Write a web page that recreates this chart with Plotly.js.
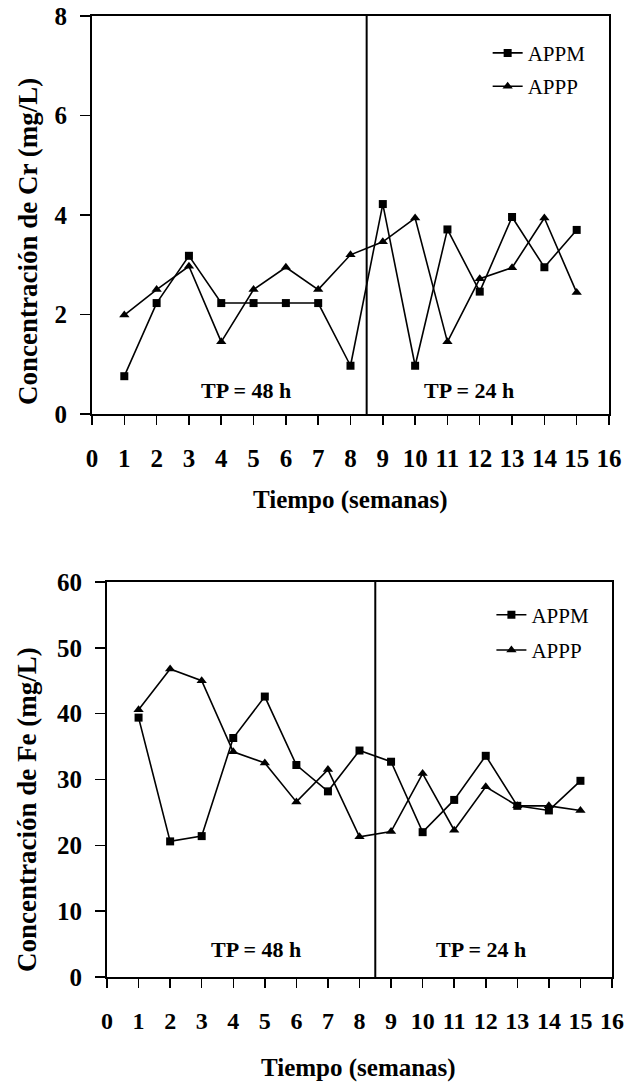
<!DOCTYPE html>
<html>
<head>
<meta charset="utf-8">
<script src="https://cdn.plot.ly/plotly-3.0.1.min.js"></script>
<style>
  html, body { margin: 0; padding: 0; background: #fff; }
  #chart { width: 626px; height: 1091px; }
</style>
</head>
<body>
<div id="chart"></div>
<script>
// ---- data ----
const weeks = [1, 2, 3, 4, 5, 6, 7, 8, 9, 10, 11, 12, 13, 14, 15];
const crAPPM = [0.76, 2.23, 3.18, 2.23, 2.23, 2.23, 2.23, 0.97, 4.22, 0.97, 3.71, 2.46, 3.96, 2.95, 3.70];
const crAPPP = [1.99, 2.50, 2.97, 1.45, 2.50, 2.95, 2.50, 3.20, 3.46, 3.94, 1.45, 2.72, 2.94, 3.94, 2.44];
const feAPPM = [39.4, 20.6, 21.4, 36.3, 42.6, 32.2, 28.2, 34.4, 32.7, 22.0, 26.9, 33.6, 26.0, 25.3, 29.8];
const feAPPP = [40.6, 46.8, 45.0, 34.2, 32.5, 26.6, 31.5, 21.3, 22.1, 30.9, 22.3, 28.9, 26.0, 26.0, 25.3];
const seriesNames = ["APPM", "APPP"];
const phaseBoundary = 8.5;
const phaseLabels = ["TP = 48 h", "TP = 24 h"];
const xTickVals = [0,1,2,3,4,5,6,7,8,9,10,11,12,13,14,15,16];
const crTickVals = [0, 2, 4, 6, 8];
const feTickVals = [0, 10, 20, 30, 40, 50, 60];
const titles = {
  x: "Tiempo (semanas)",
  yCr: "Concentración de Cr (mg/L)",
  yFe: "Concentración de Fe (mg/L)"
};

// ---- styling ----
const SERIF = "Liberation Serif, Times New Roman, serif";
const BOLD = { family: SERIF, size: 25, color: "#000", weight: 700 };

function mkTrace(x, y, name, symbol, xa, ya, legend, group) {
  return {
    x: x, y: y, name: name, type: "scatter", mode: "lines+markers",
    xaxis: xa, yaxis: ya, legend: legend, legendgroup: group,
    line: { color: "#000", width: 1.6 },
    marker: { symbol: symbol, size: symbol === "square" ? 8 : 9, color: "#000" }
  };
}

const traces = [
  mkTrace(weeks, crAPPM, seriesNames[0], "square", "x", "y", "legend", "a"),
  mkTrace(weeks, crAPPP, seriesNames[1], "triangle-up", "x", "y", "legend", "b"),
  mkTrace(weeks, feAPPM, seriesNames[0], "square", "x2", "y2", "legend2", "c"),
  mkTrace(weeks, feAPPP, seriesNames[1], "triangle-up", "x2", "y2", "legend2", "d")
];

function xAxis(domain, anchor, fontSize) {
  return {
    domain: domain, anchor: anchor, range: [0, 16], tickvals: xTickVals,
    ticks: "outside", ticklen: 9, tickwidth: 1.5, tickcolor: "#000",
    ticklabelstandoff: 12, ticklabeloverflow: "allow",
    showline: true, linecolor: "#000", linewidth: 2, mirror: true,
    showgrid: false, zeroline: false,
    tickfont: Object.assign({}, BOLD, { size: fontSize }),
    automargin: false, fixedrange: true
  };
}
function yAxis(domain, anchor, range, vals) {
  return {
    domain: domain, anchor: anchor, range: range, tickvals: vals,
    ticks: "outside", ticklen: 10, tickwidth: 1.5, tickcolor: "#000",
    ticklabelstandoff: 8, ticklabeloverflow: "allow",
    showline: true, linecolor: "#000", linewidth: 2, mirror: true,
    showgrid: false, zeroline: false, tickfont: BOLD, automargin: false, fixedrange: true
  };
}

function title(x, y, text, angle, size) {
  return { xref: "paper", yref: "paper", x: x, y: y, text: text, showarrow: false,
    xanchor: "center", yanchor: "middle", textangle: angle,
    font: { family: SERIF, size: size, weight: 700, color: "#000" } };
}
function phase(xr, yr, x, y, text) {
  return { xref: xr, yref: yr, x: x, y: y, text: text, showarrow: false,
    xanchor: "center", yanchor: "middle",
    font: { family: SERIF, size: 22, weight: 700, color: "#000" } };
}

const layout = {
  width: 626, height: 1091,
  margin: { l: 0, r: 0, t: 0, b: 0 },
  paper_bgcolor: "#fff", plot_bgcolor: "#fff",
  font: { family: SERIF, color: "#000" },
  xaxis: xAxis([0.14696, 0.97284], "y", 25),
  yaxis: yAxis([0.62053, 0.98533], "x", [0, 8], crTickVals),
  xaxis2: xAxis([0.17093, 0.97764], "y2", 24),
  yaxis2: yAxis([0.10449, 0.46654], "x2", [0, 60], feTickVals),
  legend: {
    x: 0.779, y: 0.970, xanchor: "left", yanchor: "top",
    bgcolor: "rgba(0,0,0,0)", borderwidth: 0,
    font: { family: SERIF, size: 21, color: "#000" },
    traceorder: "grouped", tracegroupgap: 3
  },
  legend2: {
    x: 0.785, y: 0.455, xanchor: "left", yanchor: "top",
    bgcolor: "rgba(0,0,0,0)", borderwidth: 0,
    font: { family: SERIF, size: 21, color: "#000" },
    traceorder: "grouped", tracegroupgap: 5
  },
  shapes: [
    { type: "line", xref: "x", yref: "y domain", x0: phaseBoundary, x1: phaseBoundary, y0: 0, y1: 1,
      line: { color: "#000", width: 2 } },
    { type: "line", xref: "x2", yref: "y2 domain", x0: phaseBoundary, x1: phaseBoundary, y0: 0, y1: 1,
      line: { color: "#000", width: 2 } }
  ],
  annotations: [
    phase("x", "y", 4.77, 0.48, phaseLabels[0]),
    phase("x", "y", 11.67, 0.48, phaseLabels[1]),
    phase("x2", "y2", 4.72, 4.2, phaseLabels[0]),
    phase("x2", "y2", 11.85, 4.2, phaseLabels[1]),
    title(0.5607, 0.5417, titles.x, 0, 25),
    title(0.0447, 0.7791, titles.yCr, -90, 27),
    title(0.5719, 0.0211, titles.x, 0, 25),
    title(0.0431, 0.2585, titles.yFe, -90, 27)
  ]
};

Plotly.newPlot("chart", traces, layout, { staticPlot: true, displayModeBar: false });
</script>
</body>
</html>
